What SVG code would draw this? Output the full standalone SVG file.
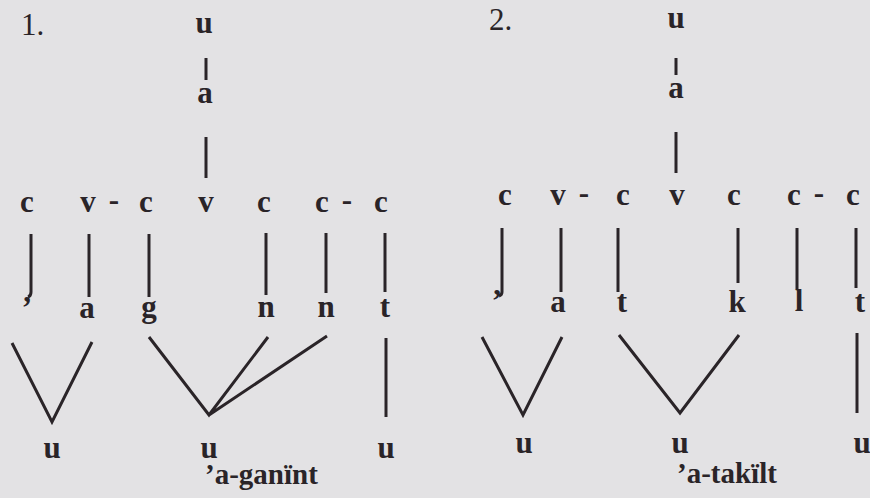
<svg xmlns="http://www.w3.org/2000/svg" width="870" height="498" viewBox="0 0 870 498">
<style>
.t{font-family:"Liberation Serif","Times New Roman",serif;font-weight:bold;font-size:31px;fill:#2a2428;text-anchor:middle}
.n{font-family:"Liberation Serif","Times New Roman",serif;font-size:31px;fill:#2a2428}
.cap{font-family:"Liberation Serif","Times New Roman",serif;font-weight:bold;font-size:29px;fill:#2a2428}
.l{stroke:#2a2428;stroke-width:3;fill:none;stroke-linecap:butt;stroke-linejoin:miter}
</style>
<rect width="870" height="498" fill="#e3e2e4"/>
<g id="diagram1">
  <text class="n" x="21" y="35">1.</text>
  <g id="d1-top"><text class="t" x="204" y="33">u</text><text class="t" x="205" y="103">a</text></g>
  <g id="d1-skeleton">
    <text class="t" x="27" y="212">c</text>
    <text class="t" x="88" y="212">v</text>
    <text class="t" x="114" y="210">-</text>
    <text class="t" x="146" y="212">c</text>
    <text class="t" x="206" y="212">v</text>
    <text class="t" x="264" y="212">c</text>
    <text class="t" x="322" y="212">c</text>
    <text class="t" x="347" y="210">-</text>
    <text class="t" x="381" y="212">c</text>
  </g>
  <g id="d1-segments">
    <text class="t" x="27" y="318">’</text>
    <text class="t" x="87" y="318">a</text>
    <text class="t" x="149" y="317">g</text>
    <text class="t" x="266" y="317">n</text>
    <text class="t" x="326" y="317">n</text>
    <text class="t" x="385" y="317">t</text>
  </g>
  <g id="d1-units">
    <text class="t" x="52" y="458">u</text>
    <text class="t" x="209" y="458">u</text>
    <text class="t" x="386" y="458">u</text>
  </g>
  <text class="cap" x="205" y="484">’a-ganïnt</text>
</g>
<g id="diagram2">
  <text class="n" x="489" y="30">2.</text>
  <g id="d2-top"><text class="t" x="676" y="28">u</text><text class="t" x="676" y="98">a</text></g>
  <g id="d2-skeleton">
    <text class="t" x="505" y="205">c</text>
    <text class="t" x="558" y="205">v</text>
    <text class="t" x="584" y="203">-</text>
    <text class="t" x="623" y="205">c</text>
    <text class="t" x="677" y="205">v</text>
    <text class="t" x="734" y="205">c</text>
    <text class="t" x="794" y="205">c</text>
    <text class="t" x="819" y="203">-</text>
    <text class="t" x="853" y="205">c</text>
  </g>
  <g id="d2-segments">
    <text class="t" x="497" y="311">’</text>
    <text class="t" x="558" y="312">a</text>
    <text class="t" x="622" y="312">t</text>
    <text class="t" x="737" y="312">k</text>
    <text class="t" x="799" y="311">l</text>
    <text class="t" x="860" y="312">t</text>
  </g>
  <g id="d2-units">
    <text class="t" x="524" y="453">u</text>
    <text class="t" x="680" y="453">u</text>
    <text class="t" x="862" y="453">u</text>
  </g>
  <text class="cap" x="677" y="483">’a-takïlt</text>
</g>
<g id="connectors">
  <path class="l" d="M206 58V80M206 137V178"/>
  <path class="l" d="M31 234V292Q31 296 28 297M89 234V297M149 234V297M266 233V295M326 233V293M385 233V292"/>
  <path class="l" d="M12 343L52 422L92 342"/>
  <path class="l" d="M149 337L209 415L268 337M209 415L327 336"/>
  <path class="l" d="M386 338V417"/>
  <path class="l" d="M676 58V75M676 132V173"/>
  <path class="l" d="M502 228V292Q502 295 499 296M561 228V292M618 228V292M738 228V283M797 228V289M856 228V288"/>
  <path class="l" d="M482 337L523 415L562 337"/>
  <path class="l" d="M619 335L680 413L739 335"/>
  <path class="l" d="M857 333V413"/>
</g>
</svg>
